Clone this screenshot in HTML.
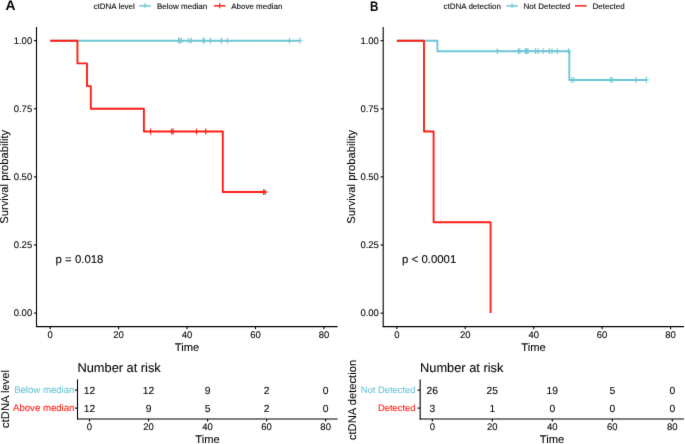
<!DOCTYPE html>
<html><head><meta charset="utf-8"><style>
html,body{margin:0;padding:0;background:#fff;}
svg{display:block;font-family:"Liberation Sans", sans-serif;text-rendering:geometricPrecision;}
</style></head><body>
<svg width="685" height="444" viewBox="0 0 685 444">
<defs><filter id="bl" x="0" y="0" width="685" height="444" filterUnits="userSpaceOnUse" color-interpolation-filters="sRGB"><feConvolveMatrix order="3" kernelMatrix="0.00640 0.06720 0.00640 0.06720 0.70560 0.06720 0.00640 0.06720 0.00640" edgeMode="duplicate"/></filter></defs>
<g filter="url(#bl)">
<rect width="685" height="444" fill="#fff"/>
<text transform="translate(5.6 10.3) scale(1.0 1)" font-size="13.8" font-weight="bold" fill="#000">A</text>
<text x="93.50" y="8.80" font-size="8.0" text-anchor="start" fill="#000000" stroke="#000000" stroke-width="0.08" font-weight="normal">ctDNA level</text>
<line x1="139.20" y1="5.85" x2="150.80" y2="5.85" stroke="#6EC6D6" stroke-width="1.5" />
<line x1="145.00" y1="3.00" x2="145.00" y2="8.30" stroke="#6EC6D6" stroke-width="1.1" />
<text x="157.00" y="8.80" font-size="8.0" text-anchor="start" fill="#000000" stroke="#000000" stroke-width="0.08" font-weight="normal">Below median</text>
<line x1="214.00" y1="5.85" x2="225.40" y2="5.85" stroke="#FF1E14" stroke-width="1.5" />
<line x1="219.70" y1="3.00" x2="219.70" y2="8.30" stroke="#FF1E14" stroke-width="1.1" />
<text x="231.20" y="8.80" font-size="8.0" text-anchor="start" fill="#000000" stroke="#000000" stroke-width="0.08" font-weight="normal">Above median</text>
<path d="M50.20,40.70 L299.90,40.70 " fill="none" stroke="#6EC6D6" stroke-width="1.9" stroke-linejoin="round" stroke-linecap="butt"/>
<line x1="178.60" y1="37.80" x2="178.60" y2="43.60" stroke="#6EC6D6" stroke-width="1.1" />
<line x1="176.10" y1="40.70" x2="181.10" y2="40.70" stroke="#6EC6D6" stroke-width="1.1" />
<line x1="179.60" y1="37.80" x2="179.60" y2="43.60" stroke="#6EC6D6" stroke-width="1.1" />
<line x1="177.10" y1="40.70" x2="182.10" y2="40.70" stroke="#6EC6D6" stroke-width="1.1" />
<line x1="181.40" y1="37.80" x2="181.40" y2="43.60" stroke="#6EC6D6" stroke-width="1.1" />
<line x1="178.90" y1="40.70" x2="183.90" y2="40.70" stroke="#6EC6D6" stroke-width="1.1" />
<line x1="188.90" y1="37.80" x2="188.90" y2="43.60" stroke="#6EC6D6" stroke-width="1.1" />
<line x1="186.40" y1="40.70" x2="191.40" y2="40.70" stroke="#6EC6D6" stroke-width="1.1" />
<line x1="191.30" y1="37.80" x2="191.30" y2="43.60" stroke="#6EC6D6" stroke-width="1.1" />
<line x1="188.80" y1="40.70" x2="193.80" y2="40.70" stroke="#6EC6D6" stroke-width="1.1" />
<line x1="203.20" y1="37.80" x2="203.20" y2="43.60" stroke="#6EC6D6" stroke-width="1.1" />
<line x1="200.70" y1="40.70" x2="205.70" y2="40.70" stroke="#6EC6D6" stroke-width="1.1" />
<line x1="204.20" y1="37.80" x2="204.20" y2="43.60" stroke="#6EC6D6" stroke-width="1.1" />
<line x1="201.70" y1="40.70" x2="206.70" y2="40.70" stroke="#6EC6D6" stroke-width="1.1" />
<line x1="210.40" y1="37.80" x2="210.40" y2="43.60" stroke="#6EC6D6" stroke-width="1.1" />
<line x1="207.90" y1="40.70" x2="212.90" y2="40.70" stroke="#6EC6D6" stroke-width="1.1" />
<line x1="221.40" y1="37.80" x2="221.40" y2="43.60" stroke="#6EC6D6" stroke-width="1.1" />
<line x1="218.90" y1="40.70" x2="223.90" y2="40.70" stroke="#6EC6D6" stroke-width="1.1" />
<line x1="227.50" y1="37.80" x2="227.50" y2="43.60" stroke="#6EC6D6" stroke-width="1.1" />
<line x1="225.00" y1="40.70" x2="230.00" y2="40.70" stroke="#6EC6D6" stroke-width="1.1" />
<line x1="289.50" y1="37.80" x2="289.50" y2="43.60" stroke="#6EC6D6" stroke-width="1.1" />
<line x1="287.00" y1="40.70" x2="292.00" y2="40.70" stroke="#6EC6D6" stroke-width="1.1" />
<line x1="299.90" y1="37.80" x2="299.90" y2="43.60" stroke="#6EC6D6" stroke-width="1.1" />
<line x1="297.40" y1="40.70" x2="302.40" y2="40.70" stroke="#6EC6D6" stroke-width="1.1" />
<path d="M50.20,40.70 L77.45,40.70 L77.45,63.40 L87.00,63.40 L87.00,86.10 L90.80,86.10 L90.80,108.80 L143.90,108.80 L143.90,131.50 L222.80,131.50 L222.80,192.03 L265.20,192.03 " fill="none" stroke="#FF1E14" stroke-width="1.9" stroke-linejoin="round" stroke-linecap="butt"/>
<line x1="150.60" y1="128.60" x2="150.60" y2="134.40" stroke="#FF1E14" stroke-width="1.1" />
<line x1="148.10" y1="131.50" x2="153.10" y2="131.50" stroke="#FF1E14" stroke-width="1.1" />
<line x1="171.60" y1="128.60" x2="171.60" y2="134.40" stroke="#FF1E14" stroke-width="1.1" />
<line x1="169.10" y1="131.50" x2="174.10" y2="131.50" stroke="#FF1E14" stroke-width="1.1" />
<line x1="173.10" y1="128.60" x2="173.10" y2="134.40" stroke="#FF1E14" stroke-width="1.1" />
<line x1="170.60" y1="131.50" x2="175.60" y2="131.50" stroke="#FF1E14" stroke-width="1.1" />
<line x1="196.50" y1="128.60" x2="196.50" y2="134.40" stroke="#FF1E14" stroke-width="1.1" />
<line x1="194.00" y1="131.50" x2="199.00" y2="131.50" stroke="#FF1E14" stroke-width="1.1" />
<line x1="205.70" y1="128.60" x2="205.70" y2="134.40" stroke="#FF1E14" stroke-width="1.1" />
<line x1="203.20" y1="131.50" x2="208.20" y2="131.50" stroke="#FF1E14" stroke-width="1.1" />
<line x1="263.60" y1="189.13" x2="263.60" y2="194.93" stroke="#FF1E14" stroke-width="1.1" />
<line x1="261.10" y1="192.03" x2="266.10" y2="192.03" stroke="#FF1E14" stroke-width="1.1" />
<line x1="265.20" y1="189.13" x2="265.20" y2="194.93" stroke="#FF1E14" stroke-width="1.1" />
<line x1="262.70" y1="192.03" x2="267.70" y2="192.03" stroke="#FF1E14" stroke-width="1.1" />
<line x1="36.50" y1="27.00" x2="36.50" y2="327.10" stroke="#000000" stroke-width="1.1" />
<line x1="36.00" y1="326.60" x2="337.60" y2="326.60" stroke="#000000" stroke-width="1.1" />
<line x1="33.90" y1="40.70" x2="36.50" y2="40.70" stroke="#000000" stroke-width="1.1" />
<text x="32.20" y="44.05" font-size="9.5" text-anchor="end" fill="#000000" stroke="#000000" stroke-width="0.08" font-weight="normal">1.00</text>
<line x1="33.90" y1="108.80" x2="36.50" y2="108.80" stroke="#000000" stroke-width="1.1" />
<text x="32.20" y="112.15" font-size="9.5" text-anchor="end" fill="#000000" stroke="#000000" stroke-width="0.08" font-weight="normal">0.75</text>
<line x1="33.90" y1="176.90" x2="36.50" y2="176.90" stroke="#000000" stroke-width="1.1" />
<text x="32.20" y="180.25" font-size="9.5" text-anchor="end" fill="#000000" stroke="#000000" stroke-width="0.08" font-weight="normal">0.50</text>
<line x1="33.90" y1="245.00" x2="36.50" y2="245.00" stroke="#000000" stroke-width="1.1" />
<text x="32.20" y="248.35" font-size="9.5" text-anchor="end" fill="#000000" stroke="#000000" stroke-width="0.08" font-weight="normal">0.25</text>
<line x1="33.90" y1="313.10" x2="36.50" y2="313.10" stroke="#000000" stroke-width="1.1" />
<text x="32.20" y="316.45" font-size="9.5" text-anchor="end" fill="#000000" stroke="#000000" stroke-width="0.08" font-weight="normal">0.00</text>
<line x1="50.20" y1="326.60" x2="50.20" y2="329.20" stroke="#000000" stroke-width="1.1" />
<text x="50.20" y="338.00" font-size="9.5" text-anchor="middle" fill="#000000" stroke="#000000" stroke-width="0.08" font-weight="normal">0</text>
<line x1="118.63" y1="326.60" x2="118.63" y2="329.20" stroke="#000000" stroke-width="1.1" />
<text x="118.63" y="338.00" font-size="9.5" text-anchor="middle" fill="#000000" stroke="#000000" stroke-width="0.08" font-weight="normal">20</text>
<line x1="187.06" y1="326.60" x2="187.06" y2="329.20" stroke="#000000" stroke-width="1.1" />
<text x="187.06" y="338.00" font-size="9.5" text-anchor="middle" fill="#000000" stroke="#000000" stroke-width="0.08" font-weight="normal">40</text>
<line x1="255.50" y1="326.60" x2="255.50" y2="329.20" stroke="#000000" stroke-width="1.1" />
<text x="255.50" y="338.00" font-size="9.5" text-anchor="middle" fill="#000000" stroke="#000000" stroke-width="0.08" font-weight="normal">60</text>
<line x1="323.93" y1="326.60" x2="323.93" y2="329.20" stroke="#000000" stroke-width="1.1" />
<text x="323.93" y="338.00" font-size="9.5" text-anchor="middle" fill="#000000" stroke="#000000" stroke-width="0.08" font-weight="normal">80</text>
<text x="187.05" y="351.00" font-size="11.2" text-anchor="middle" fill="#000000" stroke="#000000" stroke-width="0.08" font-weight="normal">Time</text>
<text x="8.30" y="176.80" font-size="11.2" text-anchor="middle" fill="#000000" stroke="#000000" stroke-width="0.08" font-weight="normal" transform="rotate(-90 8.30 176.80)">Survival probability</text>
<text x="55.60" y="262.80" font-size="11.4" text-anchor="start" fill="#000000" stroke="#000000" stroke-width="0.08" font-weight="normal">p = 0.018</text>
<text x="77.50" y="372.10" font-size="12.8" text-anchor="start" fill="#000000" stroke="#000000" stroke-width="0.08" font-weight="normal">Number at risk</text>
<line x1="77.50" y1="379.40" x2="77.50" y2="419.50" stroke="#000000" stroke-width="1.1" />
<line x1="77.00" y1="419.00" x2="337.60" y2="419.00" stroke="#000000" stroke-width="1.1" />
<line x1="74.90" y1="390.10" x2="77.50" y2="390.10" stroke="#000000" stroke-width="1.1" />
<text x="74.40" y="393.40" font-size="9.6" text-anchor="end" fill="#6EC6D6" stroke="#6EC6D6" stroke-width="0.08" font-weight="normal">Below median</text>
<text x="89.50" y="393.80" font-size="10.3" text-anchor="middle" fill="#000000" stroke="#000000" stroke-width="0.08" font-weight="normal">12</text>
<text x="148.54" y="393.80" font-size="10.3" text-anchor="middle" fill="#000000" stroke="#000000" stroke-width="0.08" font-weight="normal">12</text>
<text x="207.58" y="393.80" font-size="10.3" text-anchor="middle" fill="#000000" stroke="#000000" stroke-width="0.08" font-weight="normal">9</text>
<text x="266.62" y="393.80" font-size="10.3" text-anchor="middle" fill="#000000" stroke="#000000" stroke-width="0.08" font-weight="normal">2</text>
<text x="325.66" y="393.80" font-size="10.3" text-anchor="middle" fill="#000000" stroke="#000000" stroke-width="0.08" font-weight="normal">0</text>
<line x1="74.90" y1="408.10" x2="77.50" y2="408.10" stroke="#000000" stroke-width="1.1" />
<text x="74.40" y="411.40" font-size="9.6" text-anchor="end" fill="#FF1E14" stroke="#FF1E14" stroke-width="0.08" font-weight="normal">Above median</text>
<text x="89.50" y="411.80" font-size="10.3" text-anchor="middle" fill="#000000" stroke="#000000" stroke-width="0.08" font-weight="normal">12</text>
<text x="148.54" y="411.80" font-size="10.3" text-anchor="middle" fill="#000000" stroke="#000000" stroke-width="0.08" font-weight="normal">9</text>
<text x="207.58" y="411.80" font-size="10.3" text-anchor="middle" fill="#000000" stroke="#000000" stroke-width="0.08" font-weight="normal">5</text>
<text x="266.62" y="411.80" font-size="10.3" text-anchor="middle" fill="#000000" stroke="#000000" stroke-width="0.08" font-weight="normal">2</text>
<text x="325.66" y="411.80" font-size="10.3" text-anchor="middle" fill="#000000" stroke="#000000" stroke-width="0.08" font-weight="normal">0</text>
<line x1="89.50" y1="419.00" x2="89.50" y2="421.60" stroke="#000000" stroke-width="1.1" />
<text x="89.50" y="430.20" font-size="9.5" text-anchor="middle" fill="#000000" stroke="#000000" stroke-width="0.08" font-weight="normal">0</text>
<line x1="148.54" y1="419.00" x2="148.54" y2="421.60" stroke="#000000" stroke-width="1.1" />
<text x="148.54" y="430.20" font-size="9.5" text-anchor="middle" fill="#000000" stroke="#000000" stroke-width="0.08" font-weight="normal">20</text>
<line x1="207.58" y1="419.00" x2="207.58" y2="421.60" stroke="#000000" stroke-width="1.1" />
<text x="207.58" y="430.20" font-size="9.5" text-anchor="middle" fill="#000000" stroke="#000000" stroke-width="0.08" font-weight="normal">40</text>
<line x1="266.62" y1="419.00" x2="266.62" y2="421.60" stroke="#000000" stroke-width="1.1" />
<text x="266.62" y="430.20" font-size="9.5" text-anchor="middle" fill="#000000" stroke="#000000" stroke-width="0.08" font-weight="normal">60</text>
<line x1="325.66" y1="419.00" x2="325.66" y2="421.60" stroke="#000000" stroke-width="1.1" />
<text x="325.66" y="430.20" font-size="9.5" text-anchor="middle" fill="#000000" stroke="#000000" stroke-width="0.08" font-weight="normal">80</text>
<text x="207.55" y="442.90" font-size="11.2" text-anchor="middle" fill="#000000" stroke="#000000" stroke-width="0.08" font-weight="normal">Time</text>
<text x="8.90" y="399.00" font-size="11.2" text-anchor="middle" fill="#000000" stroke="#000000" stroke-width="0.08" font-weight="normal" transform="rotate(-90 8.90 399.00)">ctDNA level</text>
<text transform="translate(369.9 11.0) scale(0.84 1)" font-size="13.8" font-weight="bold" fill="#000">B</text>
<text x="443.50" y="8.80" font-size="8.0" text-anchor="start" fill="#000000" stroke="#000000" stroke-width="0.08" font-weight="normal">ctDNA detection</text>
<line x1="506.30" y1="5.85" x2="517.80" y2="5.85" stroke="#6EC6D6" stroke-width="1.5" />
<line x1="512.05" y1="3.00" x2="512.05" y2="8.30" stroke="#6EC6D6" stroke-width="1.1" />
<text x="523.60" y="8.80" font-size="8.0" text-anchor="start" fill="#000000" stroke="#000000" stroke-width="0.08" font-weight="normal">Not Detected</text>
<line x1="575.00" y1="5.85" x2="586.60" y2="5.85" stroke="#FF1E14" stroke-width="1.5" />
<text x="592.60" y="8.80" font-size="8.0" text-anchor="start" fill="#000000" stroke="#000000" stroke-width="0.08" font-weight="normal">Detected</text>
<path d="M396.80,40.70 L437.40,40.70 L437.40,51.18 L569.30,51.18 L569.30,79.93 L646.40,79.93 " fill="none" stroke="#6EC6D6" stroke-width="1.9" stroke-linejoin="round" stroke-linecap="butt"/>
<line x1="497.20" y1="48.28" x2="497.20" y2="54.08" stroke="#6EC6D6" stroke-width="1.1" />
<line x1="494.70" y1="51.18" x2="499.70" y2="51.18" stroke="#6EC6D6" stroke-width="1.1" />
<line x1="518.40" y1="48.28" x2="518.40" y2="54.08" stroke="#6EC6D6" stroke-width="1.1" />
<line x1="515.90" y1="51.18" x2="520.90" y2="51.18" stroke="#6EC6D6" stroke-width="1.1" />
<line x1="519.90" y1="48.28" x2="519.90" y2="54.08" stroke="#6EC6D6" stroke-width="1.1" />
<line x1="517.40" y1="51.18" x2="522.40" y2="51.18" stroke="#6EC6D6" stroke-width="1.1" />
<line x1="525.30" y1="48.28" x2="525.30" y2="54.08" stroke="#6EC6D6" stroke-width="1.1" />
<line x1="522.80" y1="51.18" x2="527.80" y2="51.18" stroke="#6EC6D6" stroke-width="1.1" />
<line x1="526.60" y1="48.28" x2="526.60" y2="54.08" stroke="#6EC6D6" stroke-width="1.1" />
<line x1="524.10" y1="51.18" x2="529.10" y2="51.18" stroke="#6EC6D6" stroke-width="1.1" />
<line x1="527.90" y1="48.28" x2="527.90" y2="54.08" stroke="#6EC6D6" stroke-width="1.1" />
<line x1="525.40" y1="51.18" x2="530.40" y2="51.18" stroke="#6EC6D6" stroke-width="1.1" />
<line x1="535.50" y1="48.28" x2="535.50" y2="54.08" stroke="#6EC6D6" stroke-width="1.1" />
<line x1="533.00" y1="51.18" x2="538.00" y2="51.18" stroke="#6EC6D6" stroke-width="1.1" />
<line x1="538.10" y1="48.28" x2="538.10" y2="54.08" stroke="#6EC6D6" stroke-width="1.1" />
<line x1="535.60" y1="51.18" x2="540.60" y2="51.18" stroke="#6EC6D6" stroke-width="1.1" />
<line x1="543.20" y1="48.28" x2="543.20" y2="54.08" stroke="#6EC6D6" stroke-width="1.1" />
<line x1="540.70" y1="51.18" x2="545.70" y2="51.18" stroke="#6EC6D6" stroke-width="1.1" />
<line x1="549.40" y1="48.28" x2="549.40" y2="54.08" stroke="#6EC6D6" stroke-width="1.1" />
<line x1="546.90" y1="51.18" x2="551.90" y2="51.18" stroke="#6EC6D6" stroke-width="1.1" />
<line x1="552.00" y1="48.28" x2="552.00" y2="54.08" stroke="#6EC6D6" stroke-width="1.1" />
<line x1="549.50" y1="51.18" x2="554.50" y2="51.18" stroke="#6EC6D6" stroke-width="1.1" />
<line x1="557.10" y1="48.28" x2="557.10" y2="54.08" stroke="#6EC6D6" stroke-width="1.1" />
<line x1="554.60" y1="51.18" x2="559.60" y2="51.18" stroke="#6EC6D6" stroke-width="1.1" />
<line x1="568.60" y1="48.28" x2="568.60" y2="54.08" stroke="#6EC6D6" stroke-width="1.1" />
<line x1="566.10" y1="51.18" x2="571.10" y2="51.18" stroke="#6EC6D6" stroke-width="1.1" />
<line x1="571.70" y1="77.03" x2="571.70" y2="82.83" stroke="#6EC6D6" stroke-width="1.1" />
<line x1="569.20" y1="79.93" x2="574.20" y2="79.93" stroke="#6EC6D6" stroke-width="1.1" />
<line x1="573.90" y1="77.03" x2="573.90" y2="82.83" stroke="#6EC6D6" stroke-width="1.1" />
<line x1="571.40" y1="79.93" x2="576.40" y2="79.93" stroke="#6EC6D6" stroke-width="1.1" />
<line x1="610.70" y1="77.03" x2="610.70" y2="82.83" stroke="#6EC6D6" stroke-width="1.1" />
<line x1="608.20" y1="79.93" x2="613.20" y2="79.93" stroke="#6EC6D6" stroke-width="1.1" />
<line x1="612.10" y1="77.03" x2="612.10" y2="82.83" stroke="#6EC6D6" stroke-width="1.1" />
<line x1="609.60" y1="79.93" x2="614.60" y2="79.93" stroke="#6EC6D6" stroke-width="1.1" />
<line x1="635.90" y1="77.03" x2="635.90" y2="82.83" stroke="#6EC6D6" stroke-width="1.1" />
<line x1="633.40" y1="79.93" x2="638.40" y2="79.93" stroke="#6EC6D6" stroke-width="1.1" />
<line x1="646.40" y1="77.03" x2="646.40" y2="82.83" stroke="#6EC6D6" stroke-width="1.1" />
<line x1="643.90" y1="79.93" x2="648.90" y2="79.93" stroke="#6EC6D6" stroke-width="1.1" />
<path d="M396.80,40.70 L424.00,40.70 L424.00,131.50 L433.60,131.50 L433.60,222.30 L490.60,222.30 L490.60,313.10 " fill="none" stroke="#FF1E14" stroke-width="1.9" stroke-linejoin="round" stroke-linecap="butt"/>
<line x1="383.20" y1="27.00" x2="383.20" y2="327.10" stroke="#000000" stroke-width="1.1" />
<line x1="382.70" y1="326.60" x2="683.90" y2="326.60" stroke="#000000" stroke-width="1.1" />
<line x1="380.60" y1="40.70" x2="383.20" y2="40.70" stroke="#000000" stroke-width="1.1" />
<text x="378.90" y="44.05" font-size="9.5" text-anchor="end" fill="#000000" stroke="#000000" stroke-width="0.08" font-weight="normal">1.00</text>
<line x1="380.60" y1="108.80" x2="383.20" y2="108.80" stroke="#000000" stroke-width="1.1" />
<text x="378.90" y="112.15" font-size="9.5" text-anchor="end" fill="#000000" stroke="#000000" stroke-width="0.08" font-weight="normal">0.75</text>
<line x1="380.60" y1="176.90" x2="383.20" y2="176.90" stroke="#000000" stroke-width="1.1" />
<text x="378.90" y="180.25" font-size="9.5" text-anchor="end" fill="#000000" stroke="#000000" stroke-width="0.08" font-weight="normal">0.50</text>
<line x1="380.60" y1="245.00" x2="383.20" y2="245.00" stroke="#000000" stroke-width="1.1" />
<text x="378.90" y="248.35" font-size="9.5" text-anchor="end" fill="#000000" stroke="#000000" stroke-width="0.08" font-weight="normal">0.25</text>
<line x1="380.60" y1="313.10" x2="383.20" y2="313.10" stroke="#000000" stroke-width="1.1" />
<text x="378.90" y="316.45" font-size="9.5" text-anchor="end" fill="#000000" stroke="#000000" stroke-width="0.08" font-weight="normal">0.00</text>
<line x1="396.80" y1="326.60" x2="396.80" y2="329.20" stroke="#000000" stroke-width="1.1" />
<text x="396.80" y="338.00" font-size="9.5" text-anchor="middle" fill="#000000" stroke="#000000" stroke-width="0.08" font-weight="normal">0</text>
<line x1="465.24" y1="326.60" x2="465.24" y2="329.20" stroke="#000000" stroke-width="1.1" />
<text x="465.24" y="338.00" font-size="9.5" text-anchor="middle" fill="#000000" stroke="#000000" stroke-width="0.08" font-weight="normal">20</text>
<line x1="533.68" y1="326.60" x2="533.68" y2="329.20" stroke="#000000" stroke-width="1.1" />
<text x="533.68" y="338.00" font-size="9.5" text-anchor="middle" fill="#000000" stroke="#000000" stroke-width="0.08" font-weight="normal">40</text>
<line x1="602.12" y1="326.60" x2="602.12" y2="329.20" stroke="#000000" stroke-width="1.1" />
<text x="602.12" y="338.00" font-size="9.5" text-anchor="middle" fill="#000000" stroke="#000000" stroke-width="0.08" font-weight="normal">60</text>
<line x1="670.56" y1="326.60" x2="670.56" y2="329.20" stroke="#000000" stroke-width="1.1" />
<text x="670.56" y="338.00" font-size="9.5" text-anchor="middle" fill="#000000" stroke="#000000" stroke-width="0.08" font-weight="normal">80</text>
<text x="533.55" y="351.00" font-size="11.2" text-anchor="middle" fill="#000000" stroke="#000000" stroke-width="0.08" font-weight="normal">Time</text>
<text x="355.00" y="176.80" font-size="11.2" text-anchor="middle" fill="#000000" stroke="#000000" stroke-width="0.08" font-weight="normal" transform="rotate(-90 355.00 176.80)">Survival probability</text>
<text x="402.10" y="262.80" font-size="11.4" text-anchor="start" fill="#000000" stroke="#000000" stroke-width="0.08" font-weight="normal">p &lt; 0.0001</text>
<text x="420.10" y="372.10" font-size="12.8" text-anchor="start" fill="#000000" stroke="#000000" stroke-width="0.08" font-weight="normal">Number at risk</text>
<line x1="420.15" y1="379.40" x2="420.15" y2="419.50" stroke="#000000" stroke-width="1.1" />
<line x1="419.65" y1="419.00" x2="683.90" y2="419.00" stroke="#000000" stroke-width="1.1" />
<line x1="417.55" y1="390.10" x2="420.15" y2="390.10" stroke="#000000" stroke-width="1.1" />
<text x="415.50" y="393.40" font-size="9.4" text-anchor="end" fill="#6EC6D6" stroke="#6EC6D6" stroke-width="0.08" font-weight="normal">Not Detected</text>
<text x="432.30" y="393.80" font-size="10.3" text-anchor="middle" fill="#000000" stroke="#000000" stroke-width="0.08" font-weight="normal">26</text>
<text x="492.30" y="393.80" font-size="10.3" text-anchor="middle" fill="#000000" stroke="#000000" stroke-width="0.08" font-weight="normal">25</text>
<text x="552.30" y="393.80" font-size="10.3" text-anchor="middle" fill="#000000" stroke="#000000" stroke-width="0.08" font-weight="normal">19</text>
<text x="612.30" y="393.80" font-size="10.3" text-anchor="middle" fill="#000000" stroke="#000000" stroke-width="0.08" font-weight="normal">5</text>
<text x="672.30" y="393.80" font-size="10.3" text-anchor="middle" fill="#000000" stroke="#000000" stroke-width="0.08" font-weight="normal">0</text>
<line x1="417.55" y1="408.10" x2="420.15" y2="408.10" stroke="#000000" stroke-width="1.1" />
<text x="415.50" y="411.40" font-size="9.4" text-anchor="end" fill="#FF1E14" stroke="#FF1E14" stroke-width="0.08" font-weight="normal">Detected</text>
<text x="432.30" y="411.80" font-size="10.3" text-anchor="middle" fill="#000000" stroke="#000000" stroke-width="0.08" font-weight="normal">3</text>
<text x="492.30" y="411.80" font-size="10.3" text-anchor="middle" fill="#000000" stroke="#000000" stroke-width="0.08" font-weight="normal">1</text>
<text x="552.30" y="411.80" font-size="10.3" text-anchor="middle" fill="#000000" stroke="#000000" stroke-width="0.08" font-weight="normal">0</text>
<text x="612.30" y="411.80" font-size="10.3" text-anchor="middle" fill="#000000" stroke="#000000" stroke-width="0.08" font-weight="normal">0</text>
<text x="672.30" y="411.80" font-size="10.3" text-anchor="middle" fill="#000000" stroke="#000000" stroke-width="0.08" font-weight="normal">0</text>
<line x1="432.30" y1="419.00" x2="432.30" y2="421.60" stroke="#000000" stroke-width="1.1" />
<text x="432.30" y="430.20" font-size="9.5" text-anchor="middle" fill="#000000" stroke="#000000" stroke-width="0.08" font-weight="normal">0</text>
<line x1="492.30" y1="419.00" x2="492.30" y2="421.60" stroke="#000000" stroke-width="1.1" />
<text x="492.30" y="430.20" font-size="9.5" text-anchor="middle" fill="#000000" stroke="#000000" stroke-width="0.08" font-weight="normal">20</text>
<line x1="552.30" y1="419.00" x2="552.30" y2="421.60" stroke="#000000" stroke-width="1.1" />
<text x="552.30" y="430.20" font-size="9.5" text-anchor="middle" fill="#000000" stroke="#000000" stroke-width="0.08" font-weight="normal">40</text>
<line x1="612.30" y1="419.00" x2="612.30" y2="421.60" stroke="#000000" stroke-width="1.1" />
<text x="612.30" y="430.20" font-size="9.5" text-anchor="middle" fill="#000000" stroke="#000000" stroke-width="0.08" font-weight="normal">60</text>
<line x1="672.30" y1="419.00" x2="672.30" y2="421.60" stroke="#000000" stroke-width="1.1" />
<text x="672.30" y="430.20" font-size="9.5" text-anchor="middle" fill="#000000" stroke="#000000" stroke-width="0.08" font-weight="normal">80</text>
<text x="552.02" y="442.90" font-size="11.2" text-anchor="middle" fill="#000000" stroke="#000000" stroke-width="0.08" font-weight="normal">Time</text>
<text x="355.60" y="400.00" font-size="11.2" text-anchor="middle" fill="#000000" stroke="#000000" stroke-width="0.08" font-weight="normal" transform="rotate(-90 355.60 400.00)">ctDNA detection</text>
</g>
</svg>
</body></html>
